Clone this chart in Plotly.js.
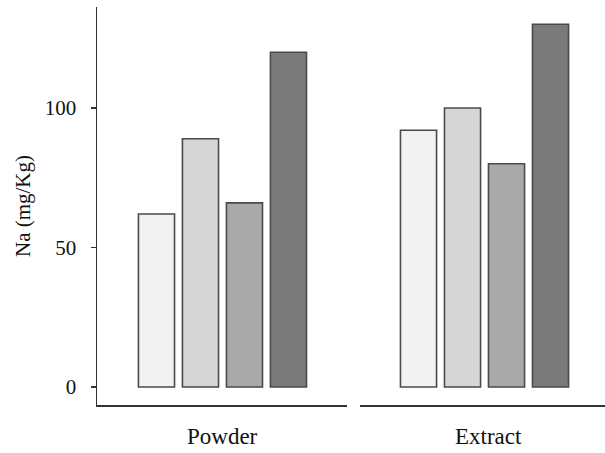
<!DOCTYPE html>
<html>
<head>
<meta charset="utf-8">
<script src="https://cdn.plot.ly/plotly-3.0.1.min.js"></script>
<style>html,body{margin:0;padding:0;background:#fff;}#chart{width:605px;height:453px;}</style>
</head>
<body>
<div id="chart"></div>
<script>
var groups = ["Powder", "Extract"];
var seriesLabels = ["S1", "S2", "S3", "S4"];
var powderValues = [62, 89, 66, 120];
var extractValues = [92, 100, 80, 130];
var yTickValues = [0, 50, 100];
var yTickLabels = ["0", "50", "100"];

var barColors = ["#f2f2f2", "#d6d6d6", "#a9a9a9", "#7a7a7a"];
var font = "Liberation Serif";

var traces = [
  {type: "bar", x: seriesLabels, y: powderValues, xaxis: "x", yaxis: "y", width: 0.82,
   marker: {color: barColors, line: {color: "#4a4a4a", width: 1.6}}, hoverinfo: "none", showlegend: false},
  {type: "bar", x: seriesLabels, y: extractValues, xaxis: "x2", yaxis: "y", width: 0.82,
   marker: {color: barColors, line: {color: "#4a4a4a", width: 1.6}}, hoverinfo: "none", showlegend: false}
];

var layout = {
  width: 605, height: 453,
  margin: {l: 97, r: 0, t: 7, b: 48},
  paper_bgcolor: "#fff", plot_bgcolor: "#fff",
  font: {family: font, color: "#111", size: 21},
  xaxis: {type: "category", domain: [0, 0.4921], range: [-1.352, 4.33], showticklabels: false, ticks: "",
          showgrid: false, zeroline: false, showline: true, linecolor: "#333", linewidth: 1.5, anchor: "y", fixedrange: true},
  xaxis2: {type: "category", domain: [0.5177, 1], range: [-1.33, 4.238], showticklabels: false, ticks: "",
           showgrid: false, zeroline: false, showline: true, linecolor: "#333", linewidth: 1.5, anchor: "y", fixedrange: true},
  yaxis: {range: [-6.45, 136.2], tickvals: yTickValues, ticktext: yTickLabels, ticks: "outside", ticklen: 5,
          tickcolor: "#333", tickwidth: 1.5, showgrid: false, zeroline: false, showline: true, linecolor: "#333", linewidth: 1.5,
          ticklabelstandoff: 10, tickfont: {size: 21, family: font, color: "#111"},
          title: {text: "Na (mg/Kg)", font: {size: 21, family: font, color: "#111"}, standoff: 8}, automargin: false},
  annotations: [
    {text: groups[0], xref: "x", yref: "paper", x: 1.5, y: -0.0804, yanchor: "middle", xanchor: "center", showarrow: false,
     font: {size: 23, family: font, color: "#111"}},
    {text: groups[1], xref: "x2", yref: "paper", x: 1.6, y: -0.0804, yanchor: "middle", xanchor: "center", showarrow: false,
     font: {size: 23, family: font, color: "#111"}}
  ]
};

Plotly.newPlot("chart", traces, layout, {displayModeBar: false, staticPlot: true});
</script>
</body>
</html>
